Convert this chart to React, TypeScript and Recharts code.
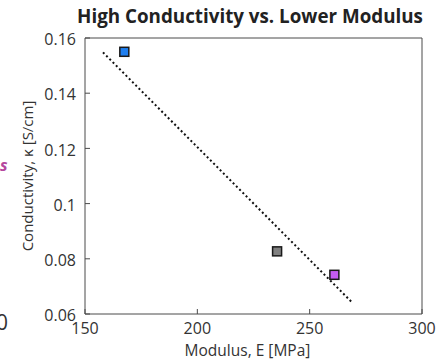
import { Cell, ComposedChart, Line, Scatter, XAxis, YAxis } from "recharts";

const modulus = [167.5, 235.5, 261];
const conductivity = [0.155, 0.0827, 0.0742];
const markerColors = ["#1f7ff0", "#808080", "#c45cf2"];

const trendModulus = [158, 269];
const trendConductivity = [0.1548, 0.0641];

const xTicks = [150, 200, 250, 300];
const yTicks = [0.06, 0.08, 0.1, 0.12, 0.14, 0.16];

const points = modulus.map((x, i) => ({ x, y: conductivity[i] }));
const trend = trendModulus.map((x, i) => ({ x, y: trendConductivity[i] }));

const FONT = "'Open Sans', sans-serif";
const AXIS = "#4a4a4a";
const TEXT = "#333333";

function SquareMarker(props: any) {
  const { cx, cy, fill } = props;
  const s = 9;
  return (
    <rect
      x={cx - s / 2}
      y={cy - s / 2}
      width={s}
      height={s}
      fill={fill}
      stroke="#1a1a1a"
      strokeWidth={1.5}
    />
  );
}

export default function App() {
  return (
    <div
      style={{
        position: "absolute",
        left: 0,
        top: 0,
        width: 439,
        height: 361,
        background: "#fff",
        fontFamily: FONT,
        overflow: "hidden",
      }}
    >
      <div
        style={{
          position: "absolute",
          left: 60,
          top: 7,
          width: 380,
          textAlign: "center",
          fontSize: 18.8,
          lineHeight: 1,
          fontWeight: 700,
          color: "#222",
        }}
      >
        High Conductivity vs. Lower Modulus
      </div>
      <span
        style={{
          position: "absolute",
          left: 0,
          top: 157,
          fontSize: 16,
          lineHeight: 1,
          fontWeight: 700,
          fontStyle: "italic",
          color: "#b5479e",
        }}
      >
        s
      </span>
      <span
        style={{
          position: "absolute",
          left: -4,
          top: 312,
          fontSize: 21,
          lineHeight: 1,
          color: TEXT,
        }}
      >
        0
      </span>
      <ComposedChart
        width={439}
        height={361}
        margin={{ top: 37, right: 16, bottom: 3, left: 19 }}
      >
        <XAxis
          xAxisId="b"
          type="number"
          dataKey="x"
          domain={[150, 300]}
          ticks={xTicks}
          height={44}
          tickSize={-5}
          tickMargin={14}
          stroke={AXIS}
          tick={{ fill: TEXT, fontSize: 16, fontFamily: FONT }}
          label={{
            value: "Modulus, E [MPa]",
            position: "insideBottom",
            offset: 2,
            dx: -6,
            fill: TEXT,
            fontSize: 15.5,
            fontFamily: FONT,
          }}
        />
        <XAxis
          xAxisId="t"
          orientation="top"
          type="number"
          dataKey="x"
          domain={[150, 300]}
          ticks={xTicks}
          height={1}
          tickSize={-5}
          tick={false}
          stroke={AXIS}
        />
        <YAxis
          yAxisId="l"
          type="number"
          dataKey="y"
          domain={[0.06, 0.16]}
          ticks={yTicks}
          width={66}
          tickSize={-5}
          tickMargin={14}
          stroke={AXIS}
          tick={{ fill: TEXT, fontSize: 16, fontFamily: FONT, dy: 1.5 }}
          label={{
            value: "Conductivity, κ [S/cm]",
            angle: -90,
            position: "insideLeft",
            offset: 9,
            fill: TEXT,
            fontSize: 15,
            fontFamily: FONT,
            style: { textAnchor: "middle" },
          }}
        />
        <YAxis
          yAxisId="r"
          orientation="right"
          type="number"
          dataKey="y"
          domain={[0.06, 0.16]}
          ticks={yTicks}
          width={1}
          tickSize={-5}
          tick={false}
          stroke={AXIS}
        />
        <Line
          xAxisId="b"
          yAxisId="l"
          data={trend}
          dataKey="y"
          type="linear"
          stroke="#111"
          strokeWidth={2}
          strokeDasharray="2 2.6"
          dot={false}
          activeDot={false}
          isAnimationActive={false}
        />
        <Scatter
          xAxisId="b"
          yAxisId="l"
          data={points}
          dataKey="y"
          shape={SquareMarker}
          isAnimationActive={false}
        >
          {points.map((_, i) => (
            <Cell key={i} fill={markerColors[i]} />
          ))}
        </Scatter>
      </ComposedChart>
    </div>
  );
}
